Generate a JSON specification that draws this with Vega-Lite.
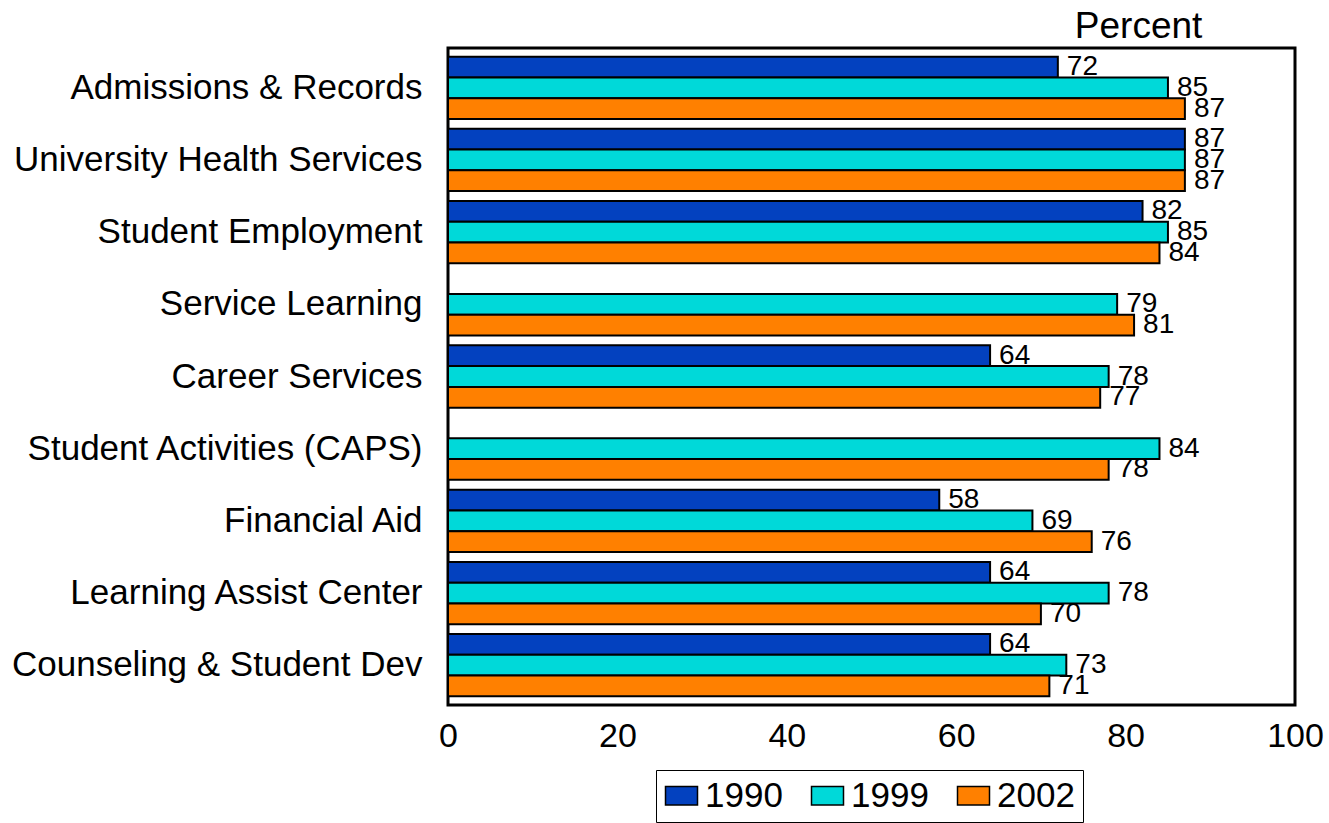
{
  "$schema": "https://vega.github.io/schema/vega-lite/v6.json",
  "width": 847,
  "height": 657,
  "padding": {"left": 11, "top": 8, "right": 5, "bottom": 0},
  "autosize": {"type": "pad"},
  "title": {"text": "Percent", "anchor": "end", "dx": -121, "fontSize": 37, "font": "Liberation Sans", "fontWeight": "normal", "offset": 2, "color": "black"},
  "data": {"values": [
    {"service": "Admissions & Records", "year": "1990", "pct": 72},
    {"service": "Admissions & Records", "year": "1999", "pct": 85},
    {"service": "Admissions & Records", "year": "2002", "pct": 87},
    {"service": "University Health Services", "year": "1990", "pct": 87},
    {"service": "University Health Services", "year": "1999", "pct": 87},
    {"service": "University Health Services", "year": "2002", "pct": 87},
    {"service": "Student Employment", "year": "1990", "pct": 82},
    {"service": "Student Employment", "year": "1999", "pct": 85},
    {"service": "Student Employment", "year": "2002", "pct": 84},
    {"service": "Service Learning", "year": "1999", "pct": 79},
    {"service": "Service Learning", "year": "2002", "pct": 81},
    {"service": "Career Services", "year": "1990", "pct": 64},
    {"service": "Career Services", "year": "1999", "pct": 78},
    {"service": "Career Services", "year": "2002", "pct": 77},
    {"service": "Student Activities (CAPS)", "year": "1999", "pct": 84},
    {"service": "Student Activities (CAPS)", "year": "2002", "pct": 78},
    {"service": "Financial Aid", "year": "1990", "pct": 58},
    {"service": "Financial Aid", "year": "1999", "pct": 69},
    {"service": "Financial Aid", "year": "2002", "pct": 76},
    {"service": "Learning Assist Center", "year": "1990", "pct": 64},
    {"service": "Learning Assist Center", "year": "1999", "pct": 78},
    {"service": "Learning Assist Center", "year": "2002", "pct": 70},
    {"service": "Counseling & Student Dev", "year": "1990", "pct": 64},
    {"service": "Counseling & Student Dev", "year": "1999", "pct": 73},
    {"service": "Counseling & Student Dev", "year": "2002", "pct": 71}
  ]},
  "encoding": {
    "y": {"field": "service", "type": "nominal", "sort": null,
      "scale": {"paddingInner": 0.137, "paddingOuter": 0.12},
      "axis": {"title": null, "ticks": false, "domain": false, "labelPadding": 26, "labelFontSize": 35, "labelFont": "Liberation Sans", "labelColor": "black", "labelLimit": 1000}},
    "x": {"field": "pct", "type": "quantitative",
      "scale": {"domain": [0, 100], "nice": false},
      "axis": {"title": null, "ticks": false, "domain": false, "grid": false, "values": [0, 20, 40, 60, 80, 100], "labelPadding": 14, "labelFontSize": 34, "labelFont": "Liberation Sans", "labelColor": "black", "labelFlush": false}},
    "yOffset": {"field": "year", "type": "nominal", "scale": {"domain": ["1990", "1999", "2002"]}}
  },
  "layer": [
    {
      "mark": {"type": "bar", "stroke": "black", "strokeWidth": 2},
      "encoding": {
        "color": {"field": "year", "type": "nominal",
          "scale": {"domain": ["1990", "1999", "2002"], "range": ["#0341BF", "#00D9D9", "#FF8000"]},
          "legend": {"title": null, "orient": "none", "legendX": 208, "legendY": 722, "direction": "horizontal",
            "labelFontSize": 35, "labelFont": "Liberation Sans", "labelColor": "black",
            "symbolType": "M-1,-0.58H1V0.58H-1Z", "symbolSize": 1024, "symbolStrokeColor": "black", "symbolStrokeWidth": 1.5, "symbolOpacity": 1,
            "labelOffset": 6, "columnPadding": 25, "padding": 8, "strokeColor": "black"}}
      }
    },
    {
      "mark": {"type": "text", "align": "left", "dx": 9, "baseline": "middle", "fontSize": 28, "font": "Liberation Sans", "color": "black"},
      "encoding": {"text": {"field": "pct", "type": "quantitative"}}
    }
  ],
  "config": {"view": {"stroke": "black", "strokeWidth": 3}}
}
